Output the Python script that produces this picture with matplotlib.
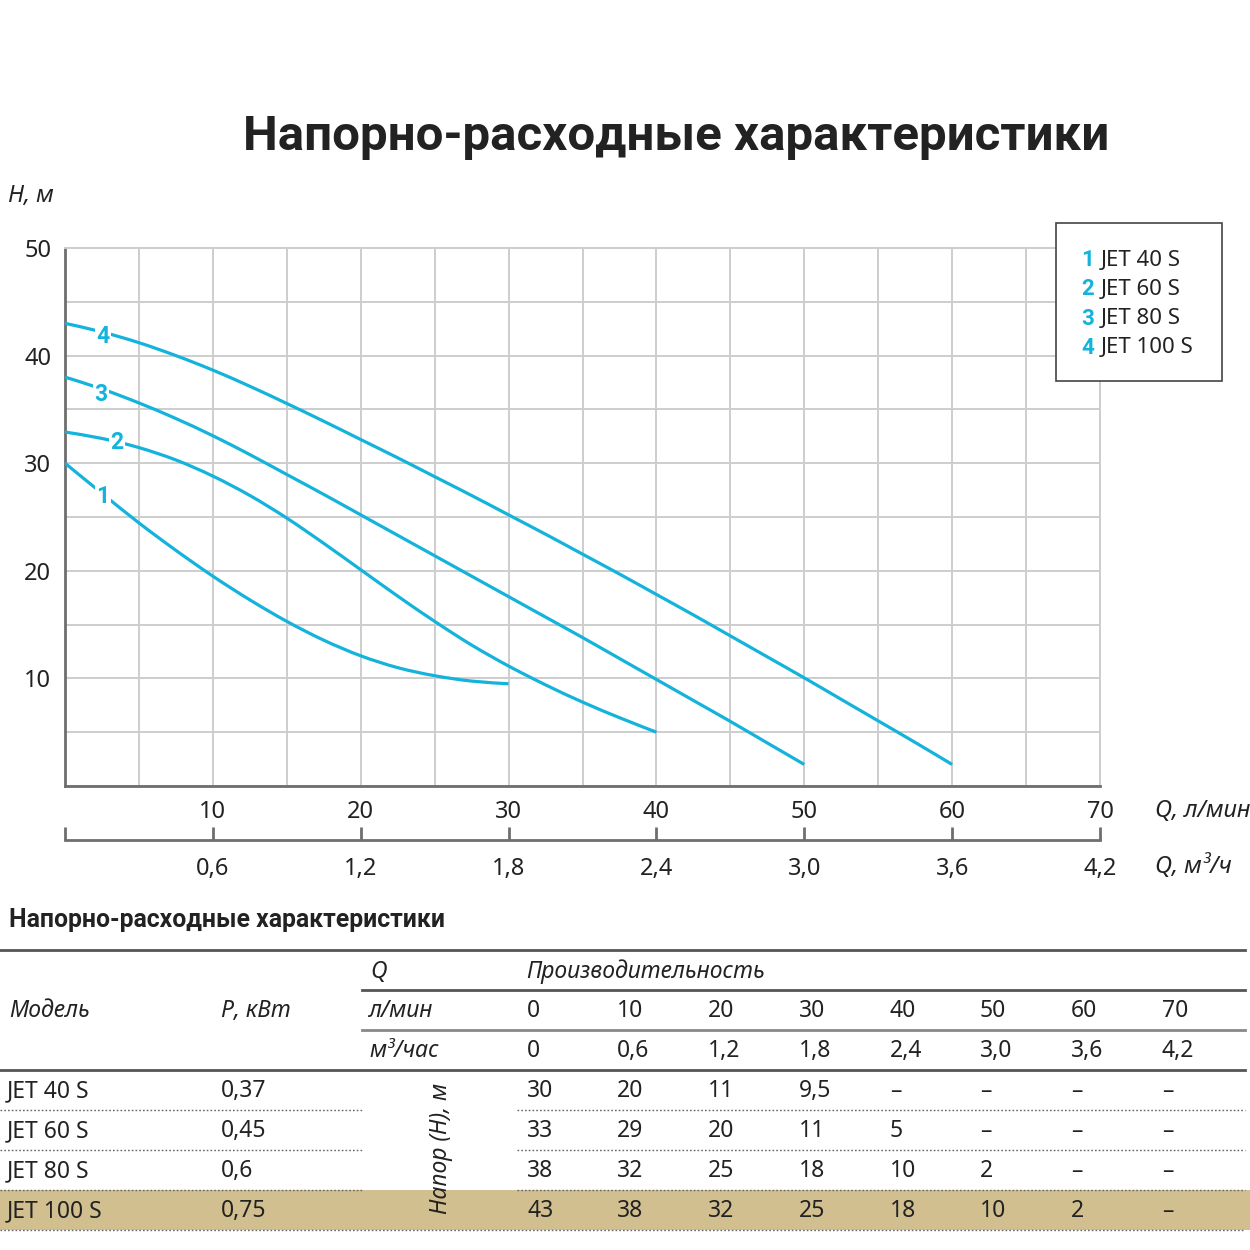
import matplotlib.pyplot as plt
from matplotlib.patches import Rectangle, PathPatch
from matplotlib.lines import Line2D
from matplotlib.path import Path
from matplotlib.ticker import FixedLocator

plt.rcParams['font.family'] = ['Noto Sans', 'DejaVu Sans']
BOLD_FAMILY = ['Roboto', 'Open Sans', 'DejaVu Sans']

# ---------------- data ----------------
models = ['JET 40 S', 'JET 60 S', 'JET 80 S', 'JET 100 S']
power_kw = ['0,37', '0,45', '0,6', '0,75']

q_lmin = [0, 10, 20, 30, 40, 50, 60, 70]
q_m3h = ['0', '0,6', '1,2', '1,8', '2,4', '3,0', '3,6', '4,2']

# head values from the table
head_table = [
    ['30', '20', '11', '9,5', '–', '–', '–', '–'],
    ['33', '29', '20', '11', '5', '–', '–', '–'],
    ['38', '32', '25', '18', '10', '2', '–', '–'],
    ['43', '38', '32', '25', '18', '10', '2', '–'],
]

# curves
q1 = [0, 2.5, 5, 7.5, 10, 12.5, 15, 17.5, 20, 22.5, 25, 27.5, 30]
h1 = [30.0, 27.2, 24.45, 21.9, 19.5, 17.3, 15.3, 13.55, 12.1, 11.0, 10.25,
      9.75, 9.5]

q2 = [0, 2.5, 5, 7.5, 10, 12.5, 15, 17.5, 20, 22.5, 25, 27.5, 30, 32.5, 35, 37.5, 40]
h2 = [32.9, 32.3, 31.45, 30.3, 28.8, 27.0, 24.9, 22.55, 20.1, 17.65, 15.3, 13.1,
      11.15, 9.4, 7.8, 6.35, 5.0]

q3 = [0, 2.5, 5, 7.5, 10, 12.5, 15, 17.5, 20, 22.5, 25, 27.5, 30, 32.5, 35,
      37.5, 40, 42.5, 45, 47.5, 50]
h3 = [38.0, 36.9, 35.6, 34.15, 32.55, 30.8, 28.95, 27.1, 25.2, 23.3, 21.4, 19.5,
      17.6, 15.7, 13.8, 11.85, 9.9, 7.95, 6.0, 4.0, 2.0]

q4 = [0, 2.5, 5, 7.5, 10, 12.5, 15, 17.5, 20, 22.5, 25, 27.5, 30, 32.5, 35,
      37.5, 40, 42.5, 45, 47.5, 50, 52.5, 55, 57.5, 60]
h4 = [43.0, 42.2, 41.2, 40.0, 38.65, 37.15, 35.55, 33.9, 32.2, 30.5, 28.75, 27.0,
      25.2, 23.4, 21.55, 19.7, 17.8, 15.9, 13.95, 12.0, 10.05, 8.05, 6.05, 4.05, 2.0]

curves = [(q1, h1), (q2, h2), (q3, h3), (q4, h4)]
curve_labels = ['1', '2', '3', '4']
label_pos = [(2.57, 26.9), (3.51, 31.9), (2.43, 36.4), (2.57, 41.8)]

# ---------------- style ----------------
CYAN = '#13b3dc'
TXT = '#222222'
AXC = '#6e6e6e'
GRID = '#cdcdcd'
TAN = '#d2bf8f'

W = H = 1250


def fx(x):
    return x / W


def fy(y):
    return 1 - y / H


def smooth_path(q, h):
    # Catmull-Rom through the read points, drawn as cubic Bezier segments
    verts = [(q[0], h[0])]
    codes = [Path.MOVETO]
    n = len(q)
    for i in range(n - 1):
        p0 = (q[max(i - 1, 0)], h[max(i - 1, 0)])
        p1 = (q[i], h[i])
        p2 = (q[i + 1], h[i + 1])
        p3 = (q[min(i + 2, n - 1)], h[min(i + 2, n - 1)])
        c1 = (p1[0] + (p2[0] - p0[0]) / 6, p1[1] + (p2[1] - p0[1]) / 6)
        c2 = (p2[0] - (p3[0] - p1[0]) / 6, p2[1] - (p3[1] - p1[1]) / 6)
        verts += [c1, c2, p2]
        codes += [Path.CURVE4] * 3
    return Path(verts, codes)


fig = plt.figure(figsize=(12.5, 12.5), dpi=100)

fig.text(fx(676), fy(137), 'Напорно-расходные характеристики', ha='center',
         va='center', fontsize=35.5, fontweight='bold', family=BOLD_FAMILY,
         color=TXT)

# ---------------- main chart ----------------
ax = fig.add_axes([fx(65), fy(786), (1100 - 65) / W, (786 - 248) / H])
ax.set_xlim(0, 70)
ax.set_ylim(0, 50)

ax.xaxis.set_major_locator(FixedLocator(q_lmin))
ax.set_xticklabels([''] + [str(v) for v in q_lmin[1:]])
ax.xaxis.set_minor_locator(FixedLocator([5, 15, 25, 35, 45, 55, 65]))
ax.yaxis.set_major_locator(FixedLocator([0, 10, 20, 30, 40, 50]))
ax.set_yticklabels(['', '10', '20', '30', '40', '50'])
ax.yaxis.set_minor_locator(FixedLocator([5, 15, 25, 35, 45]))

ax.grid(True, which='both', color=GRID, lw=1.4)
ax.set_axisbelow(True)
ax.tick_params(which='both', length=0, labelsize=17, labelcolor=TXT)
ax.tick_params(axis='x', pad=10)
ax.tick_params(axis='y', pad=10)

for s in ['top', 'right']:
    ax.spines[s].set_color(GRID)
    ax.spines[s].set_linewidth(1.4)
for s in ['left', 'bottom']:
    ax.spines[s].set_color(AXC)
    ax.spines[s].set_linewidth(2)

for (q, h), lab, (lx, ly) in zip(curves, curve_labels, label_pos):
    ax.add_patch(PathPatch(smooth_path(q, h), facecolor='none',
                           edgecolor=CYAN, lw=2.3, capstyle='butt', zorder=3))
    ax.text(lx, ly, lab, color=CYAN, fontsize=16.5, fontweight='bold',
            family=BOLD_FAMILY, ha='center', va='center', zorder=4,
            bbox=dict(facecolor='white', edgecolor='none', pad=1.0))

fig.text(fx(8), fy(196), 'H, м', ha='left', va='center', fontsize=17,
         style='italic', color=TXT)

# second scale (m3/h)
ax2 = fig.add_axes([fx(65), fy(840), (1100 - 65) / W, 0.0001])
ax2.set_xlim(0, 70)
ax2.set_facecolor('none')
ax2.set_yticks([])
for s in ['top', 'left', 'right']:
    ax2.spines[s].set_visible(False)
ax2.spines['bottom'].set_color(AXC)
ax2.spines['bottom'].set_linewidth(2)
ax2.xaxis.set_major_locator(FixedLocator(q_lmin))
ax2.set_xticklabels([''] + q_m3h[1:])
ax2.xaxis.set_minor_locator(FixedLocator([0, 70]))
ax2.tick_params(axis='x', which='major', direction='in', length=9.5, width=2,
                color=AXC, labelsize=17, labelcolor=TXT, pad=12)
ax2.tick_params(axis='x', which='minor', direction='in', length=13, width=2,
                color=AXC)

fig.text(fx(1155), fy(811), 'Q, л/мин', ha='left', va='center', fontsize=17,
         style='italic', color=TXT)
fig.text(fx(1155), fy(867), 'Q, м³/ч', ha='left', va='center', fontsize=17,
         style='italic', color=TXT)

# legend box
fig.patches.append(Rectangle((fx(1056), fy(381)), (1222 - 1056) / W,
                             (381 - 223) / H, transform=fig.transFigure,
                             facecolor='white', edgecolor='#444444', lw=1.2,
                             zorder=5))
for i, (lab, name) in enumerate(zip(curve_labels, models)):
    y = 260 + i * 29.3
    fig.text(fx(1081), fy(y), lab, color=CYAN, fontsize=16, fontweight='bold',
             family=BOLD_FAMILY, ha='left', va='center', zorder=6)
    fig.text(fx(1101), fy(y), name, color=TXT, fontsize=16, ha='left',
             va='center', zorder=6)

# ---------------- table ----------------
fig.text(fx(9), fy(920), 'Напорно-расходные характеристики', ha='left',
         va='center', fontsize=17.8, fontweight='bold', family=BOLD_FAMILY,
         color=TXT)


def hline(y, x0, x1, **kw):
    fig.add_artist(Line2D([fx(x0), fx(x1)], [fy(y), fy(y)],
                          transform=fig.transFigure, **kw))


# highlighted row
fig.patches.append(Rectangle((0, fy(1230)), 1, 40 / H,
                             transform=fig.transFigure, facecolor=TAN,
                             edgecolor='none', zorder=0))

solid = dict(color='#555555', lw=2)
hline(950, 0, 1245, **solid)
hline(990, 362, 1245, **solid)
hline(1030, 362, 1245, color='#888888', lw=2)
hline(1070, 0, 1245, **solid)
dotted = dict(color='#666666', lw=1, linestyle=(0, (1.2, 1.5)))
for y in [1110, 1150, 1190]:
    hline(y, 0, 362, **dotted)
    hline(y, 517, 1245, **dotted)
hline(1230, 0, 1245, **dotted)

col_x = [527, 617, 708, 799, 890, 980, 1071, 1162]
fs = 16.5

fig.text(fx(370), fy(972), 'Q', fontsize=fs, style='italic', color=TXT,
         ha='left', va='center')
fig.text(fx(526), fy(972), 'Производительность', fontsize=fs, style='italic',
         color=TXT, ha='left', va='center')
fig.text(fx(9), fy(1011), 'Модель', fontsize=fs, style='italic', color=TXT,
         ha='left', va='center')
fig.text(fx(221), fy(1011), 'P, кВт', fontsize=fs, style='italic', color=TXT,
         ha='left', va='center')
fig.text(fx(369), fy(1011), 'л/мин', fontsize=fs, style='italic', color=TXT,
         ha='left', va='center')
fig.text(fx(369), fy(1051), 'м³/час', fontsize=fs, style='italic', color=TXT,
         ha='left', va='center')

for x, a, b in zip(col_x, q_lmin, q_m3h):
    fig.text(fx(x), fy(1011), str(a), fontsize=fs, color=TXT, ha='left',
             va='center')
    fig.text(fx(x), fy(1051), b, fontsize=fs, color=TXT, ha='left',
             va='center')

for r, (m, p, vals) in enumerate(zip(models, power_kw, head_table)):
    y = 1091 + r * 40
    fig.text(fx(7), fy(y), m, fontsize=fs, color=TXT, ha='left', va='center')
    fig.text(fx(221), fy(y), p, fontsize=fs, color=TXT, ha='left', va='center')
    for x, v in zip(col_x, vals):
        fig.text(fx(x), fy(y), v, fontsize=fs, color=TXT, ha='left',
                 va='center')

fig.text(fx(441), fy(1148), 'Напор (Н), м', fontsize=fs, style='italic',
         color=TXT, rotation=90, ha='center', va='center')

fig.savefig('out.png', dpi=100)
